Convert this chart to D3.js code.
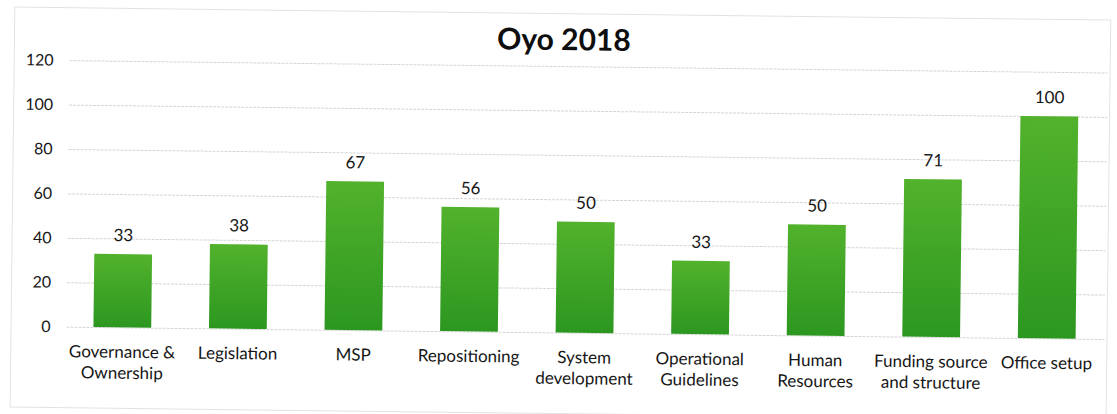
<!DOCTYPE html>
<html>
<head>
<meta charset="utf-8">
<script src="https://cdn.jsdelivr.net/npm/d3@7"></script>
<style>
  html, body { margin: 0; padding: 0; background: #ffffff; }
  svg { display: block; }
</style>
</head>
<body>
<div id="chart"></div>
<script>
// Oyo 2018 – score per assessment area
const categories = [
  ["Governance &", "Ownership"],
  ["Legislation"],
  ["MSP"],
  ["Repositioning"],
  ["System", "development"],
  ["Operational", "Guidelines"],
  ["Human", "Resources"],
  ["Funding source", "and structure"],
  ["Office setup"]
];
const values = [33, 38, 67, 56, 50, 33, 50, 71, 100];
const yTicks = [0, 20, 40, 60, 80, 100, 120];
const title = "Oyo 2018";

const W = 1117, H = 414;
const FONT = "Lato, 'Open Sans', sans-serif";
const INK = "#161616";

const svg = d3.select("#chart").append("svg")
  .attr("width", W).attr("height", H);

const defs = svg.append("defs");
const grad = defs.append("linearGradient")
  .attr("id", "barFill").attr("x1", 0).attr("y1", 0).attr("x2", 0).attr("y2", 1);
grad.append("stop").attr("offset", "0%").attr("stop-color", "#52b22c");
grad.append("stop").attr("offset", "100%").attr("stop-color", "#2c9720");

// whole page sits at a slight clockwise slant
const g = svg.append("g").attr("transform", "rotate(0.68, 558, 207)");

// outer frame
g.append("rect")
  .attr("x", 12.5).attr("y", 13.5).attr("width", 1096).attr("height", 400)
  .attr("fill", "none").attr("stroke", "#e2e2e2").attr("stroke-width", 1);

const x = d3.scaleBand()
  .domain(d3.range(categories.length))
  .range([66, 1106])
  .paddingInner(0.5).paddingOuter(0.25);

const y = d3.scaleLinear().domain([0, 120]).range([332.5, 66]);

// gridlines + tick labels
const yAxis = d3.axisLeft(y).tickValues(yTicks).tickSize(-(1106 - 68)).tickPadding(16);
const ya = g.append("g").attr("transform", "translate(68,0)").call(yAxis);
ya.select(".domain").remove();
ya.selectAll(".tick line").attr("stroke", "#d6d6d6").attr("stroke-width", 1)
  .attr("stroke-dasharray", "3,1");
ya.selectAll(".tick text")
  .attr("font-family", FONT).attr("font-size", 16).attr("fill", INK);

// bars
g.append("g").selectAll("rect").data(values).join("rect")
  .attr("x", (d, i) => x(i))
  .attr("width", x.bandwidth())
  .attr("y", d => y(d))
  .attr("height", d => y(0) - y(d))
  .attr("fill", "url(#barFill)");

// value labels
g.append("g").selectAll("text").data(values).join("text")
  .attr("x", (d, i) => x(i) + x.bandwidth() / 2)
  .attr("y", d => y(d) - 13)
  .attr("text-anchor", "middle")
  .attr("font-family", FONT).attr("font-size", 17).attr("fill", INK)
  .text(d => d);

// category labels
const cat = g.append("g").selectAll("text").data(categories).join("text")
  .attr("x", (d, i) => x(i) + x.bandwidth() / 2)
  .attr("y", 363)
  .attr("text-anchor", "middle")
  .attr("font-family", FONT).attr("font-size", 17).attr("fill", INK);
cat.selectAll("tspan").data(d => d).join("tspan")
  .attr("x", function () { return d3.select(this.parentNode).attr("x"); })
  .attr("dy", (d, i) => i === 0 ? 0 : 21)
  .text(d => d);

// title
g.append("text")
  .attr("x", 562).attr("y", 50)
  .attr("text-anchor", "middle")
  .attr("font-family", FONT).attr("font-weight", 700).attr("font-size", 30)
  .attr("fill", "#0e0e0e")
  .text(title);
</script>
</body>
</html>
